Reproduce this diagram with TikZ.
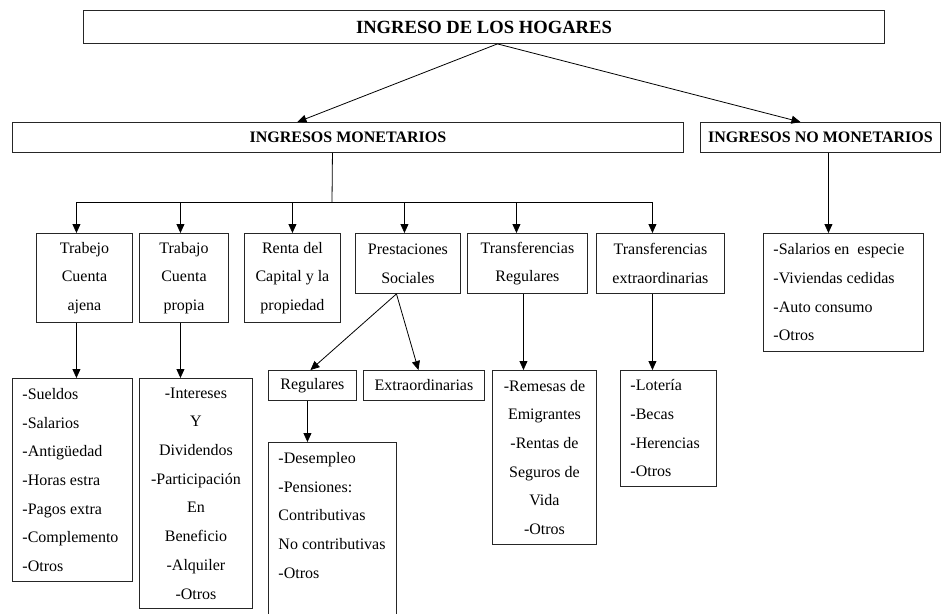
\documentclass[tikz,border=0pt]{standalone}
\usepackage{fontspec}
\setmainfont{Liberation Serif}
\usetikzlibrary{arrows.meta}
\begin{document}
\begin{tikzpicture}[x=1pt,y=-1pt,
  bx/.style={draw=black!85, line width=0.9pt, rectangle, inner sep=0pt, anchor=north west, align=center, font=\fontsize{16}{28.7}\selectfont},
  lbx/.style={bx, align=flush left, inner xsep=10pt},
  hd/.style={bx, font=\bfseries\fontsize{16}{19}\selectfont},
  arr/.style={draw=black, line width=0.8pt, -{Triangle[length=9pt,width=8pt]}},
  ln/.style={draw=black, line width=0.8pt}]
\useasboundingbox (0,0) rectangle (941,613);

% top level
\node[bx, font=\bfseries\fontsize{18.6}{22}\selectfont, minimum width=801pt, minimum height=33pt] (top) at (83,10) {INGRESO DE LOS HOGARES};
\node[hd, minimum width=671pt, minimum height=30pt] (mon) at (12,122) {INGRESOS MONETARIOS};
\node[hd, minimum width=240pt, minimum height=30pt] (nomon) at (700,122) {INGRESOS NO MONETARIOS};

% second row
\node[bx, minimum width=96pt, minimum height=89pt] (tca) at (36,233) {Trabejo\\Cuenta\\ajena};
\node[bx, minimum width=89pt, minimum height=89pt] (tcp) at (139,233) {Trabajo\\Cuenta\\propia};
\node[bx, minimum width=96pt, minimum height=89pt] (ren) at (244,233) {Renta del\\Capital y la\\propiedad};
\node[bx, minimum width=105pt, minimum height=60pt] (pre) at (355,233) {Prestaciones\\Sociales};
\node[bx, minimum width=120pt, minimum height=60pt] (trr) at (467,233) {Transferencias\\Regulares};
\node[bx, minimum width=128pt, minimum height=60pt] (tre) at (596,233) {Transferencias\\extraordinarias};
\node[lbx, text width=140pt, minimum height=118pt] (nml) at (763,233) {-Salarios en\ \ especie\\-Viviendas cedidas\\-Auto consumo\\-Otros};

% third row
\node[lbx, text width=100pt, minimum height=203pt] (sue) at (12,378) {-Sueldos\\-Salarios\\-Antigüedad\\-Horas estra\\-Pagos extra\\-Complemento\\-Otros};
\node[bx, minimum width=113pt, minimum height=230pt] (div) at (139,378) {-Intereses\\Y\\Dividendos\\-Participación\\En\\Beneficio\\-Alquiler\\-Otros};
\node[bx, minimum width=88pt, minimum height=30pt] (reg) at (268,370) {Regulares};
\node[bx, minimum width=121pt, minimum height=30pt] (ext) at (363,370) {Extraordinarias};
\node[bx, minimum width=104pt, minimum height=174pt] (rem) at (492,370) {-Remesas de\\Emigrantes\\-Rentas de\\Seguros de\\Vida\\-Otros};
\node[lbx, text width=76pt, minimum height=116pt] (lot) at (620,370) {-Lotería\\-Becas\\-Herencias\\-Otros};
\node[lbx, draw=none, text width=108pt, inner ysep=10pt] (des) at (268,442) {-Desempleo\\-Pensiones:\\Contributivas\\\mbox{No contributivas}\\-Otros};
\coordinate (bot) at (0,620);
\draw[line width=0.9pt, draw=black!85] (des.north west |- bot) -- (des.north west) -- (des.north east) -- (des.north east |- bot);

% connectors from top
\coordinate (ts) at ([xshift=13.5pt]top.south);
\draw[arr] (ts) -- ([xshift=-50.5pt]mon.north);
\draw[arr] (ts) -- ([xshift=-20pt]nomon.north);

% bus under monetarios
\coordinate (bus) at (332,202);
\draw[ln] ([xshift=-15.5pt]mon.south) -- (bus);
\coordinate (etca) at ([xshift=-8pt]tca.north);
\coordinate (etcp) at ([xshift=-3.5pt]tcp.north);
\coordinate (eren) at (ren.north);
\coordinate (epre) at ([xshift=-3.5pt]pre.north);
\coordinate (etrr) at ([xshift=-11pt]trr.north);
\coordinate (etre) at ([xshift=-8pt]tre.north);
\draw[ln] (etca |- bus) -- (etre |- bus);
\draw[arr] (etca |- bus) -- (etca);
\draw[arr] (etcp |- bus) -- (etcp);
\draw[arr] (eren |- bus) -- (eren);
\draw[arr] (epre |- bus) -- (epre);
\draw[arr] (etrr |- bus) -- (etrr);
\draw[arr] (etre |- bus) -- (etre);

% other connectors
\draw[arr] ([xshift=8pt]nomon.south) -- ([xshift=-15pt]nml.north);
\draw[arr] ([xshift=-8pt]tca.south) -- ([xshift=4pt]sue.north);
\draw[arr] ([xshift=-3.5pt]tcp.south) -- ([xshift=-15.5pt]div.north);
\draw[arr] ([xshift=-11.5pt]pre.south) -- ([xshift=-2pt]reg.north);
\draw[arr] ([xshift=-11.5pt]pre.south) -- ([xshift=-5.5pt]ext.north);
\draw[arr] ([xshift=-5pt]reg.south) -- ([xshift=-25pt]des.north);
\draw[arr] ([xshift=-4pt]trr.south) -- ([xshift=-21pt]rem.north);
\draw[arr] ([xshift=-8pt]tre.south) -- ([xshift=-16pt]lot.north);
\end{tikzpicture}
\end{document}
